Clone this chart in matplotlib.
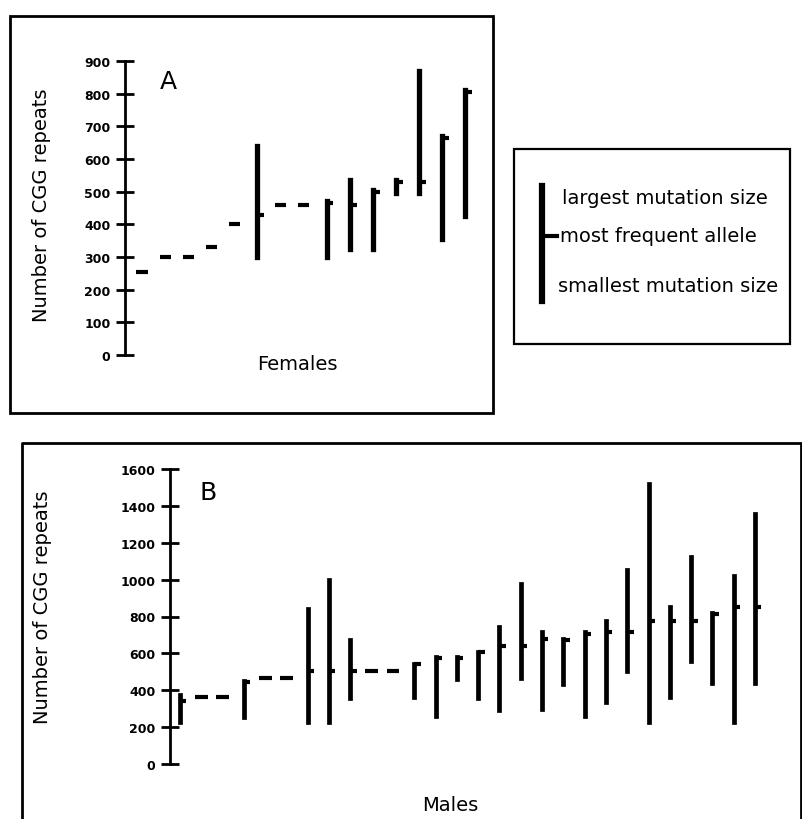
import matplotlib
matplotlib.use('Agg')
import matplotlib.pyplot as plt
from matplotlib.lines import Line2D
from matplotlib.patches import Rectangle

W, H = 803, 820

# panel A - females: smallest / largest mutation size and most frequent allele
FEMALES_LOW = [255, 300, 300, 330, 400, 300, 460, 460, 300, 325, 325, 495, 495, 355, 425]
FEMALES_HIGH = [255, 300, 300, 330, 400, 640, 460, 460, 470, 535, 505, 535, 870, 670, 810]
FEMALES_MODE = [255, 300, 300, 330, 400, 430, 460, 460, 465, 460, 500, 530, 530, 665, 805]
FEMALES_TICKS = [0, 100, 200, 300, 400, 500, 600, 700, 800, 900]

# panel B - males
MALES_LOW = [230, 365, 365, 255, 465, 465, 230, 230, 360, 505, 505, 365, 260, 460,
             360, 295, 465, 300, 435, 260, 335, 505, 230, 365, 560, 440, 230, 440]
MALES_HIGH = [375, 365, 365, 450, 465, 465, 840, 1000, 670, 505, 505, 545, 580, 580,
              610, 745, 975, 715, 680, 715, 775, 1050, 1520, 850, 1125, 820, 1020, 1355]
MALES_MODE = [340, 365, 365, 445, 465, 465, 505, 505, 505, 505, 505, 540, 575, 575,
              605, 640, 640, 680, 675, 705, 715, 715, 775, 775, 775, 815, 850, 850]
MALES_TICKS = [0, 200, 400, 600, 800, 1000, 1200, 1400, 1600]

YLABEL = 'Number of CGG repeats'
LEGEND_LABELS = ['largest mutation size', 'most frequent allele', 'smallest mutation size']

FONT = 'DejaVu Sans'


def fx(x):
    return x / W


def fy(y):
    return 1 - y / H


def px_box(x0, y0, x1, y1):
    return [fx(x0), fy(y1), (x1 - x0) / W, (y1 - y0) / H]


def draw_panel(ax, low, high, mode, ticks, bar_lw, half_dash, flag):
    xs = list(range(1, len(low) + 1))
    for x, lo, hi, m in zip(xs, low, high, mode):
        if lo == hi:
            ax.hlines(m, x - half_dash, x + half_dash, colors='black', lw=3.0,
                      clip_on=False)
        else:
            ax.vlines(x, lo, hi, colors='black', lw=bar_lw, clip_on=False,
                      capstyle='projecting')
            ax.hlines(m, x, x + flag, colors='black', lw=3.0, clip_on=False)

    for side in ['top', 'right', 'bottom']:
        ax.spines[side].set_visible(False)
    ax.spines['left'].set_linewidth(2.0)
    ax.set_xticks([])
    ax.set_yticks(ticks)
    ax.set_ylim(ticks[0], ticks[-1])
    ax.tick_params(axis='y', direction='inout', length=13, width=2.0, pad=4,
                   labelsize=9)
    for lab in ax.get_yticklabels():
        lab.set_fontweight('bold')
    ax.patch.set_alpha(0)


fig = plt.figure(figsize=(W / 100, H / 100), dpi=100)

# frames
fig.add_artist(Rectangle((fx(10), fy(414)), 483 / W, 397 / H, transform=fig.transFigure,
                         fill=False, lw=2.0, ec='black'))
fig.add_artist(Rectangle((fx(514), fy(345)), 276 / W, 195 / H, transform=fig.transFigure,
                         fill=False, lw=1.6, ec='black'))
fig.add_artist(Line2D([fx(22), fx(22), fx(801), fx(801)], [fy(830), fy(444), fy(444), fy(830)],
                      transform=fig.transFigure, lw=2.0, color='black'))

# panel A
axA = fig.add_axes(px_box(125, 62, 490, 356))
draw_panel(axA, FEMALES_LOW, FEMALES_HIGH, FEMALES_MODE, FEMALES_TICKS,
           bar_lw=3.8, half_dash=0.24, flag=0.3)
axA.set_xlim(0.263, 16.085)

# panel B
axB = fig.add_axes(px_box(170, 470, 800, 765))
draw_panel(axB, MALES_LOW, MALES_HIGH, MALES_MODE, MALES_TICKS,
           bar_lw=3.4, half_dash=0.3, flag=0.3)
axB.set_xlim(0.53, 30.11)

# texts
fig.text(fx(42), fy(205), YLABEL, rotation=90, ha='center', va='center',
         fontsize=14, family=FONT)
fig.text(fx(43), fy(607), YLABEL, rotation=90, ha='center', va='center',
         fontsize=14, family=FONT)
fig.text(fx(168), fy(82), 'A', ha='center', va='center', fontsize=18, family=FONT)
fig.text(fx(208), fy(493), 'B', ha='center', va='center', fontsize=18, family=FONT)
fig.text(fx(297), fy(365), 'Females', ha='center', va='center', fontsize=14, family=FONT)
fig.text(fx(450), fy(806), 'Males', ha='center', va='center', fontsize=14, family=FONT)

# legend symbol
fig.add_artist(Line2D([fx(542), fx(542)], [fy(187), fy(302)], transform=fig.transFigure,
                      lw=4.5, color='black'))
fig.add_artist(Line2D([fx(542), fx(557)], [fy(237), fy(237)], transform=fig.transFigure,
                      lw=3.0, color='black'))
for label, x, y in zip(LEGEND_LABELS, [562, 560, 558], [199, 237, 287]):
    fig.text(fx(x), fy(y), label, ha='left', va='center', fontsize=14, family=FONT)

fig.savefig('out.png', dpi=100)
